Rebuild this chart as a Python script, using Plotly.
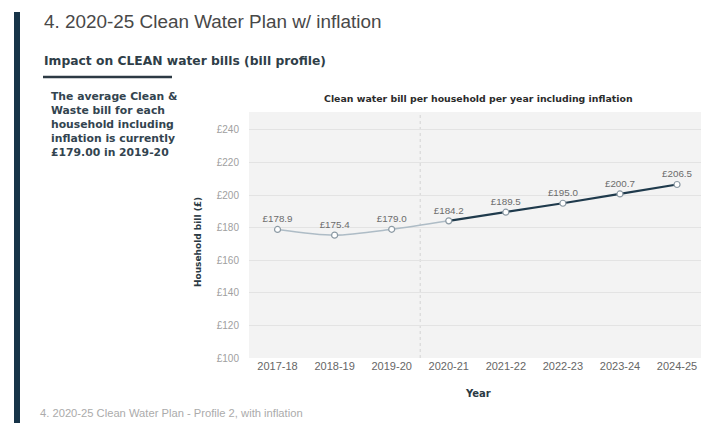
import plotly.graph_objects as go

# Bill profile data
years = ["2017-18", "2018-19", "2019-20", "2020-21", "2021-22", "2022-23", "2023-24", "2024-25"]
bills = [178.9, 175.4, 179.0, 184.2, 189.5, 195.0, 200.7, 206.5]
split_index = 3  # first year of the 2020-25 plan
y_ticks = [100, 120, 140, 160, 180, 200, 220, 240]

W, H = 702, 423
L, R, T, B = 249, 1, 112, 65
PW, PH = W - L - R, H - T - B

def px(x):
    return (x - L) / PW

def py(y):
    return (H - B - y) / PH

FONT = "Liberation Sans, Arial, sans-serif"
BOLD = "DejaVu Sans, Verdana, sans-serif"
DARK = "#1f3a4c"

fig = go.Figure()

# Historical part of the line (smoothed, light)
fig.add_trace(go.Scatter(
    x=years[:split_index + 1], y=bills[:split_index + 1], mode="lines",
    line=dict(color="#aebcc6", width=1.6, shape="spline", smoothing=0.8),
    hoverinfo="skip", showlegend=False,
))
# Plan period (dark)
fig.add_trace(go.Scatter(
    x=years[split_index:], y=bills[split_index:], mode="lines",
    line=dict(color=DARK, width=2.2),
    hoverinfo="skip", showlegend=False,
))
# Points with value labels
fig.add_trace(go.Scatter(
    x=years, y=bills, mode="markers+text",
    marker=dict(symbol="circle", size=6, color="white",
                line=dict(color="#8c9aa4", width=1.2)),
    text=[f"£{v:.1f}" for v in bills], textposition="top center",
    textfont=dict(family=FONT, size=9.8, color="#6b6b6b"),
    showlegend=False,
))

annotations = [
    dict(text="4. 2020-25 Clean Water Plan w/ inflation", x=px(42), y=py(21),
         xanchor="left", yanchor="middle",
         font=dict(family=FONT, size=18.9, color="#484848")),
    dict(text="<b>Impact on CLEAN water bills (bill profile)</b>", x=px(42), y=py(61),
         xanchor="left", yanchor="middle",
         font=dict(family=BOLD, size=12.3, color="#2f3e48")),
    dict(text="<b>The average Clean &<br>Waste bill for each<br>household including<br>"
              "inflation is currently<br>£179.00 in 2019-20</b>",
         x=px(49), y=py(88), xanchor="left", yanchor="top", align="left",
         font=dict(family=BOLD, size=10.8, color="#33444f")),
    dict(text="<b>Clean water bill per household per year including inflation</b>",
         x=px(478), y=py(98), xanchor="center", yanchor="middle",
         font=dict(family=BOLD, size=9.4, color="#2b2b2b")),
    dict(text="<b>Household bill (£)</b>", x=px(198), y=py(242), textangle=-90,
         xanchor="center", yanchor="middle",
         font=dict(family=BOLD, size=9, color="#2b3a44")),
    dict(text="<b>Year</b>", x=px(478), y=py(393), xanchor="center", yanchor="middle",
         font=dict(family=BOLD, size=10, color="#2b3a44")),
    dict(text="4. 2020-25 Clean Water Plan - Profile 2, with inflation",
         x=px(38), y=py(413), xanchor="left", yanchor="middle",
         font=dict(family=FONT, size=11.2, color="#ababab")),
]
for a in annotations:
    a.update(xref="paper", yref="paper", showarrow=False)

shapes = [
    # left accent bar
    dict(type="rect", xref="paper", yref="paper", x0=px(14), x1=px(20), y0=py(12), y1=py(423),
         fillcolor="#173448", line=dict(width=0)),
    # subtitle underline
    dict(type="line", xref="paper", yref="paper", x0=px(43), x1=px(172), y0=py(77), y1=py(77),
         line=dict(color="#2c3a44", width=2.5)),
    # divider between history and plan
    dict(type="line", xref="x", yref="paper", x0=split_index - 0.5, x1=split_index - 0.5,
         y0=0, y1=1, line=dict(color="#d4d4d4", width=1, dash="dot"), layer="below"),
]

fig.update_layout(
    width=W, height=H,
    margin=dict(l=L, r=R, t=T, b=B),
    paper_bgcolor="white", plot_bgcolor="#f3f3f3",
    font=dict(family=FONT),
    annotations=annotations, shapes=shapes,
    xaxis=dict(
        type="category", range=[-0.5, 7.42], showgrid=False, zeroline=False,
        showline=False, ticks="",
        tickfont=dict(family=FONT, size=11, color="#666666"),
    ),
    yaxis=dict(
        range=[100, 251], tickvals=y_ticks, ticktext=[f"£{v}" for v in y_ticks],
        showgrid=True, gridcolor="#e3e3e3", gridwidth=1, zeroline=False,
        showline=False, ticks="", ticklabelstandoff=9,
        tickfont=dict(family=FONT, size=10, color="#a0a0a0"),
    ),
)

fig.write_html("out.html")
